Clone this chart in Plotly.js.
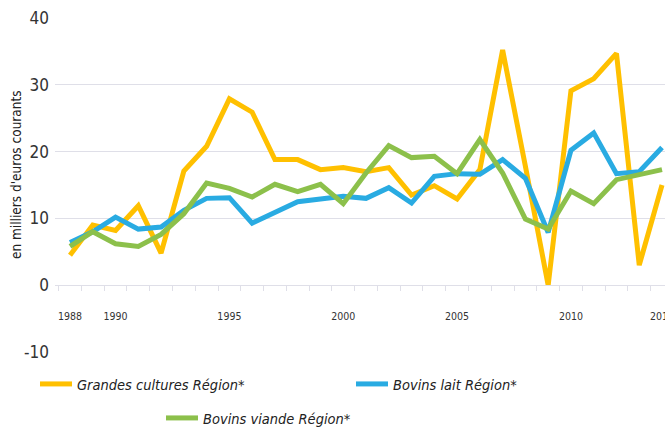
<!DOCTYPE html>
<html>
<head>
<meta charset="utf-8">
<script src="https://cdn.plot.ly/plotly-3.0.1.min.js"></script>
<style>
  html, body { margin: 0; padding: 0; background: #ffffff; }
  #chart { width: 665px; height: 427px; }
</style>
</head>
<body>
<div id="chart"></div>
<script>
const years = [1988,1989,1990,1991,1992,1993,1994,1995,1996,1997,1998,1999,2000,
               2001,2002,2003,2004,2005,2006,2007,2008,2009,2010,2011,2012,2013,2014];
const grandesCultures = [4.5,9.0,8.2,11.9,4.8,17.1,20.8,27.9,25.9,18.8,18.8,17.3,17.6,
                         17.0,17.6,13.5,14.9,12.9,17.3,35.2,17.8,0.0,29.1,30.9,34.7,3.0,15.0];
const bovinsLait = [6.4,8.0,10.2,8.4,8.7,11.2,13.0,13.1,9.3,10.9,12.5,12.9,13.3,
                    13.0,14.6,12.3,16.3,16.7,16.6,18.8,16.0,7.9,20.2,22.8,16.7,17.0,20.6];
const bovinsViande = [5.8,8.0,6.2,5.8,7.6,10.7,15.3,14.5,13.2,15.1,14.0,15.1,12.2,
                      16.8,20.9,19.1,19.3,16.7,21.8,16.8,9.9,8.4,14.1,12.2,15.8,16.6,17.3];
const seriesNames = ["Grandes cultures Région*", "Bovins lait Région*", "Bovins viande Région*"];
const xTickVals = [1988,1990,1995,2000,2005,2010,2014];
const xTickText = ["1988","1990","1995","2000","2005","2010","2014"];
const yTickVals = [-10,0,10,20,30,40];
const yTickText = ["-10","0","10","20","30","40"];
const yTitle = "en milliers d'euros courants";

const FONT = '"Liberation Sans Narrow", "DejaVu Sans Condensed", "Liberation Sans", sans-serif';
const GRID = '#dfdfe8';
const TXT = '#333333';

function trace(y, name, color, legendId) {
  return {
    x: years, y: y, name: name, type: 'scatter', mode: 'lines',
    line: { color: color, width: 5 },
    legend: legendId, hoverinfo: 'skip'
  };
}

const data = [
  trace(grandesCultures, seriesNames[0], '#FFC000', 'legend'),
  trace(bovinsLait, seriesNames[1], '#29ABE2', 'legend2'),
  trace(bovinsViande, seriesNames[2], '#8CC04B', 'legend3')
];

const legendBase = {
  orientation: 'h', bgcolor: 'rgba(0,0,0,0)', borderwidth: 0,
  xref: 'container', yref: 'container', xanchor: 'left', yanchor: 'middle',
  font: { family: FONT, size: 14.5, color: '#222222', style: 'italic' },
  itemwidth: 32
};

const layout = {
  width: 665, height: 427,
  margin: { l: 55, r: 0, t: 18, b: 75, pad: 0 },
  paper_bgcolor: '#ffffff', plot_bgcolor: '#ffffff',
  showlegend: true,
  legend: Object.assign({}, legendBase, { x: 35 / 665, y: 1 - 384 / 427 }),
  legend2: Object.assign({}, legendBase, { x: 351 / 665, y: 1 - 384 / 427 }),
  legend3: Object.assign({}, legendBase, { x: 161 / 665, y: 1 - 418 / 427 }),
  xaxis: {
    type: 'linear',
    range: [1987.341, 2014.131],
    anchor: 'free', position: 0.2006,
    showgrid: false, zeroline: false,
    showline: true, linecolor: GRID, linewidth: 1,
    tickmode: 'array', tickvals: xTickVals, ticktext: xTickText,
    ticks: 'outside', ticklen: 21, tickcolor: 'rgba(0,0,0,0)',
    ticklabeloverflow: 'allow',
    tickfont: { family: FONT, size: 10.5, color: TXT },
    minor: { tick0: 1987.5, dtick: 1, ticks: 'outside', ticklen: 5, tickcolor: GRID, showgrid: false },
    fixedrange: true
  },
  yaxis: {
    range: [-10, 40],
    tickmode: 'array', tickvals: yTickVals, ticktext: yTickText,
    showgrid: true, gridcolor: GRID, gridwidth: 1,
    zeroline: false, showline: false,
    ticks: '', ticklabelstandoff: 5,
    tickfont: { family: FONT, size: 17, color: TXT },
    fixedrange: true
  },
  annotations: [{
    text: yTitle, textangle: -90, showarrow: false,
    xref: 'paper', yref: 'paper',
    x: (16 - 55) / 610, y: (352 - 175) / 334,
    xanchor: 'center', yanchor: 'middle',
    font: { family: FONT, size: 13.5, color: '#222222' }
  }]
};

Plotly.newPlot('chart', data, layout, { staticPlot: true, displayModeBar: false });
</script>
</body>
</html>
